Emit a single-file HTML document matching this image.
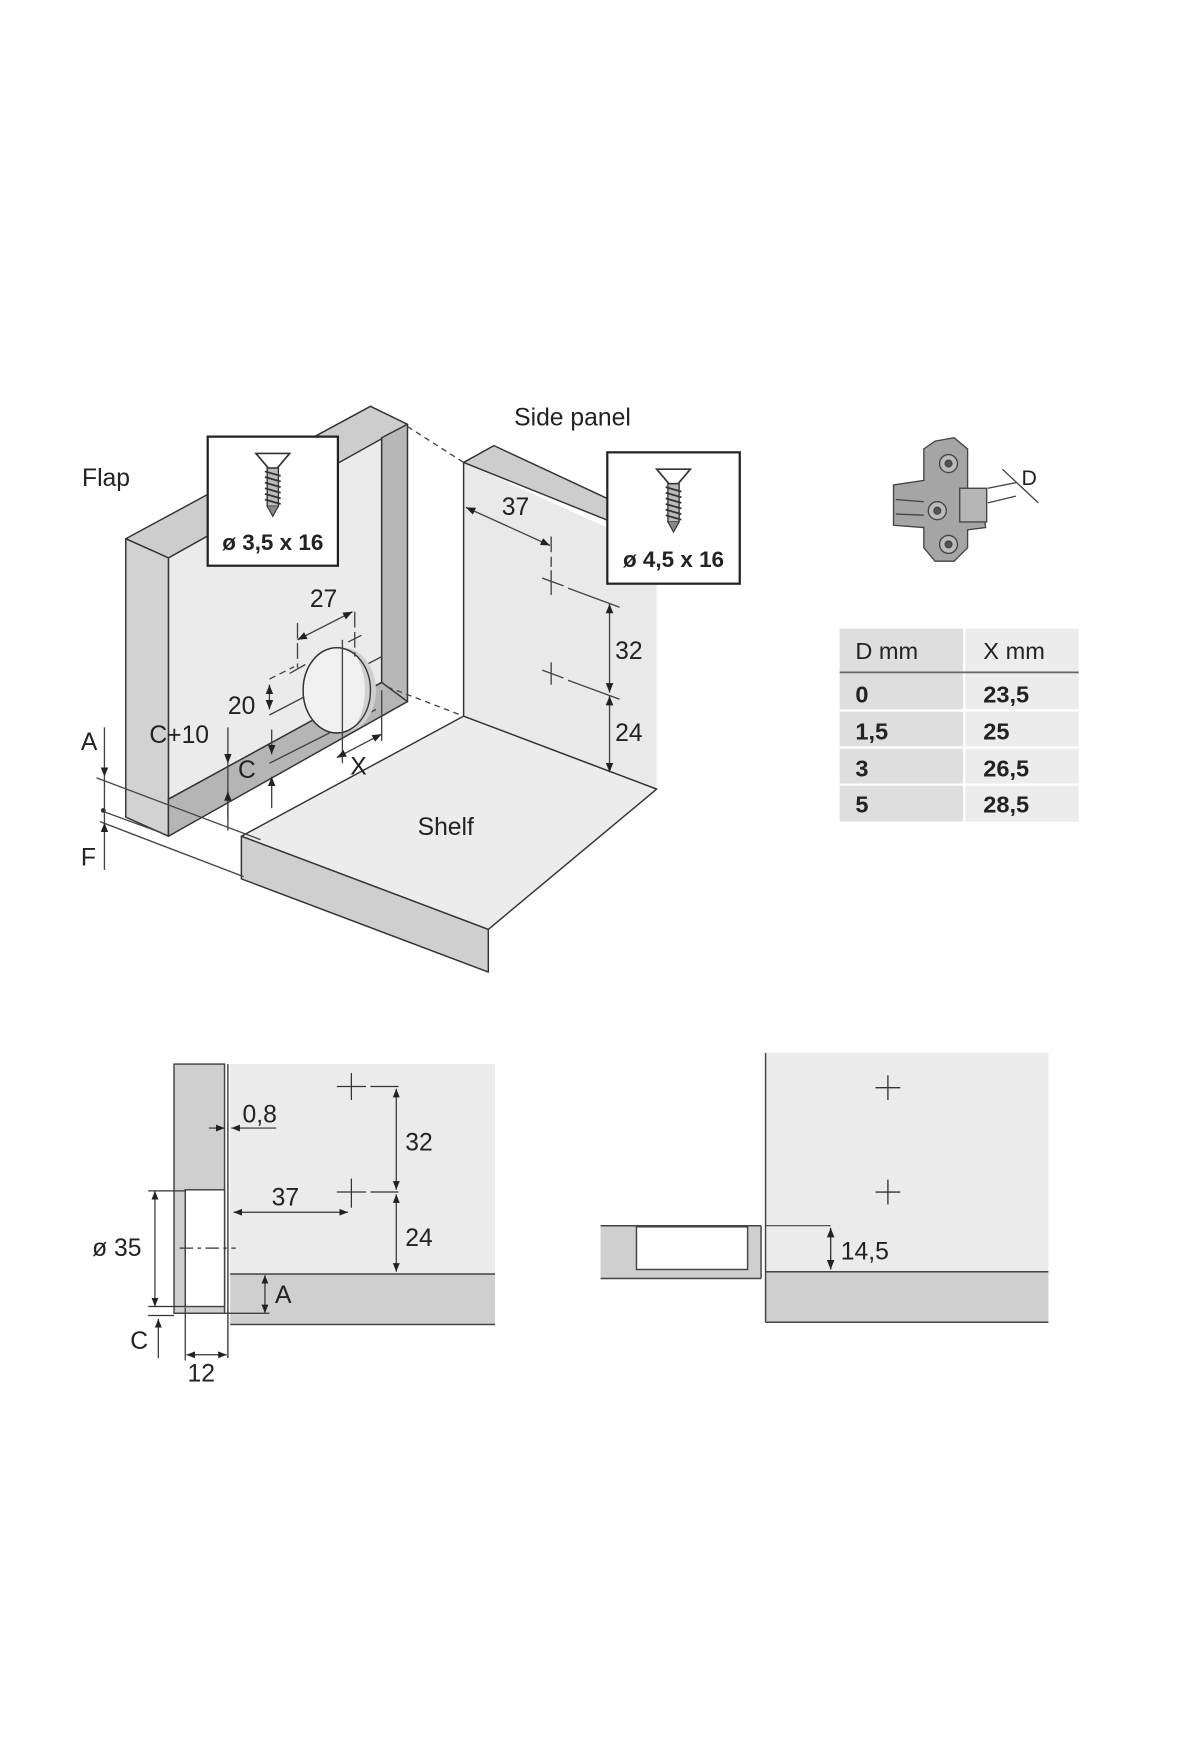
<!DOCTYPE html>
<html><head><meta charset="utf-8"><style>
html,body{margin:0;padding:0;background:#fff;width:1200px;height:1760px;overflow:hidden}
svg{display:block}
text{font-family:"Liberation Sans","DejaVu Sans",sans-serif;fill:#222}
</style></head><body>
<svg width="1200" height="1760" viewBox="0 0 1069 1568" xmlns="http://www.w3.org/2000/svg">
<defs>
<marker id="a" viewBox="0 0 10 10" refX="10" refY="5" markerWidth="7" markerHeight="7" orient="auto-start-reverse"><path d="M0,1 L10,5 L0,9 z" fill="#222"/></marker>
<g id="screw">
<path d="M-15,0 L15,0 L4,13 L-4,13 z" fill="#fff" stroke="#333" stroke-width="1.5"/>
<rect x="-5" y="13" width="10" height="34" fill="#bbb" stroke="#333" stroke-width="1.2"/>
<path d="M-7,16 L7,20 M-7,21 L7,25 M-7,26 L7,30 M-7,31 L7,35 M-7,36 L7,40 M-7,41 L7,45" stroke="#333" stroke-width="1.6"/>
<path d="M-5,47 L0,56 L5,47" fill="#888" stroke="#333" stroke-width="1"/>
</g>
</defs>
<g stroke="#333" stroke-width="1.3" stroke-linejoin="round">
<polygon points="215,745 413,638 585,703 435,828" fill="#ececec"/>
<polygon points="215,745 435,828 435,866 215,783" fill="#cfcfcf"/>
<polygon points="413,412 585,490 585,703 413,638" fill="#e9e9e9" stroke="none"/>
<line x1="413" y1="412" x2="413" y2="638"/>
<line x1="413" y1="638" x2="585" y2="703"/>
<polygon points="413,412 440,397 560,453 545,465" fill="#cdcdcd"/>
<polygon points="150,497 340,390 340,608 150,712" fill="#ebebeb"/>
<polygon points="112,480 330,362 363,378 150,497" fill="#cdcdcd"/>
<polygon points="112,480 150,497 150,745 112,728" fill="#d2d2d2"/>
<polygon points="340,390 363,378 363,625 340,638" fill="#b8b8b8"/>
<polygon points="150,712 340,608 363,625 150,745" fill="#b5b5b5"/>
</g>
<g stroke="#444" stroke-width="1.2" fill="none">
<line x1="363" y1="380" x2="413" y2="412" stroke-dasharray="5,4"/>
<line x1="345" y1="612" x2="413" y2="638" stroke-dasharray="5,4"/>
<line x1="86" y1="693" x2="232" y2="748"/>
<line x1="92" y1="723" x2="144" y2="742"/>
<line x1="89" y1="732" x2="217" y2="781"/>
<line x1="93" y1="648" x2="93" y2="692" marker-end="url(#a)"/>
<line x1="93" y1="775" x2="93" y2="733" marker-end="url(#a)"/>
<line x1="93" y1="692" x2="93" y2="733"/>
<circle cx="92" cy="722" r="1.6" fill="#222"/>
<line x1="203" y1="648" x2="203" y2="680" marker-end="url(#a)"/>
<line x1="203" y1="680" x2="203" y2="730"/>
<line x1="203" y1="740" x2="203" y2="705" marker-end="url(#a)"/>
<line x1="242" y1="650" x2="242" y2="672" marker-end="url(#a)"/>
<line x1="242" y1="720" x2="242" y2="692" marker-end="url(#a)"/>
<line x1="240" y1="680" x2="335" y2="632"/>
<line x1="240" y1="610" x2="240" y2="632" marker-start="url(#a)" marker-end="url(#a)"/>
<line x1="240" y1="605" x2="262" y2="594" stroke-dasharray="6,4"/>
<line x1="240" y1="637" x2="340" y2="585"/>
<ellipse cx="300" cy="615" rx="30" ry="38" fill="#f0f0f0" stroke="#333"/>
<path d="M305,577 A20,38 0 0 1 305,653 A30,38 0 0 0 305,577z" fill="#cfcfcf" stroke="none"/>
<ellipse cx="300" cy="615" rx="30" ry="38" fill="none" stroke="#333"/>
<line x1="305" y1="570" x2="305" y2="680"/>
<line x1="265" y1="555" x2="265" y2="595" stroke-dasharray="14,4"/>
<line x1="316" y1="545" x2="316" y2="585" stroke-dasharray="14,4"/>
<line x1="258" y1="600" x2="272" y2="592"/>
<line x1="310" y1="572" x2="322" y2="566"/>
<line x1="265" y1="570" x2="314" y2="545" marker-start="url(#a)" marker-end="url(#a)"/>
<line x1="300" y1="675" x2="340" y2="654" marker-start="url(#a)" marker-end="url(#a)"/>
<line x1="340" y1="615" x2="340" y2="660"/>
<line x1="415" y1="452" x2="490" y2="486" marker-start="url(#a)" marker-end="url(#a)"/>
<line x1="491" y1="478" x2="491" y2="505" stroke-dasharray="14,4"/>
<line x1="491" y1="508" x2="491" y2="530"/><line x1="483" y1="515" x2="502" y2="522"/>
<line x1="506" y1="524" x2="552" y2="541"/>
<line x1="491" y1="590" x2="491" y2="610"/><line x1="483" y1="597" x2="502" y2="604"/>
<line x1="506" y1="606" x2="552" y2="623"/>
<line x1="543" y1="538" x2="543" y2="617" marker-start="url(#a)" marker-end="url(#a)"/>
<line x1="543" y1="620" x2="543" y2="688" marker-start="url(#a)" marker-end="url(#a)"/>
</g>
<rect x="185" y="389" width="116" height="115" fill="#fff" stroke="#222" stroke-width="2"/>
<use href="#screw" x="243" y="404"/>
<text x="243" y="490" font-size="20" font-weight="bold" text-anchor="middle">ø 3,5 x 16</text>
<rect x="541" y="403" width="118" height="117" fill="#fff" stroke="#222" stroke-width="2"/>
<use href="#screw" x="600" y="418"/>
<text x="600" y="505" font-size="20" font-weight="bold" text-anchor="middle">ø 4,5 x 16</text>
<g font-size="22">
<text x="73" y="433">Flap</text>
<text x="458" y="379">Side panel</text>
<text x="372" y="744">Shelf</text>
<text x="447" y="459">37</text>
<text x="548" y="587">32</text>
<text x="548" y="660">24</text>
<text x="276" y="541">27</text>
<text x="203" y="636">20</text>
<text x="133" y="662">C+10</text>
<text x="212" y="693">C</text>
<text x="312" y="690">X</text>
<text x="72" y="668">A</text>
<text x="72" y="771">F</text>
</g>
<g stroke="#444" stroke-width="1.2">
<polygon points="833,393 850,390 862,400 862,445 876,448 878,470 862,472 862,488 850,500 833,500 823,488 823,470 796,468 796,432 823,428 823,400" fill="#a5a5a5"/>
<line x1="798" y1="445" x2="823" y2="447"/><line x1="798" y1="458" x2="823" y2="459"/>
<rect x="855" y="435" width="24" height="30" fill="#b5b5b5"/>
<circle cx="845" cy="413" r="8" fill="#bbb"/><circle cx="835" cy="455" r="8" fill="#bbb"/><circle cx="845" cy="485" r="8" fill="#bbb"/>
<circle cx="845" cy="413" r="3" fill="#555"/><circle cx="835" cy="455" r="3" fill="#555"/><circle cx="845" cy="485" r="3" fill="#555"/>
<line x1="880" y1="435" x2="905" y2="430"/><line x1="880" y1="448" x2="905" y2="442"/>
<line x1="893" y1="418" x2="925" y2="448"/>
</g>
<text x="910" y="432" font-size="19">D</text>
<rect x="748" y="560" width="110" height="172" fill="#dedede"/>
<rect x="860" y="560" width="101" height="172" fill="#ececec"/>
<g stroke="#fff" stroke-width="2"><line x1="748" y1="633" x2="961" y2="633"/><line x1="748" y1="666" x2="961" y2="666"/><line x1="748" y1="699" x2="961" y2="699"/></g>
<line x1="748" y1="599" x2="961" y2="599" stroke="#666" stroke-width="1.5"/>
<g font-size="21" font-weight="bold" fill="#222">
<text x="762" y="587" font-weight="normal">D mm</text><text x="876" y="587" font-weight="normal">X mm</text>
<text x="762" y="626">0</text><text x="876" y="626">23,5</text>
<text x="762" y="659">1,5</text><text x="876" y="659">25</text>
<text x="762" y="692">3</text><text x="876" y="692">26,5</text>
<text x="762" y="724">5</text><text x="876" y="724">28,5</text>
</g>
<g stroke="#444" stroke-width="1.3">
<rect x="205" y="948" width="236" height="187" fill="#ebebeb" stroke="none"/>
<rect x="205" y="1135" width="236" height="45" fill="#cfcfcf" stroke="none"/>
<line x1="205" y1="1135" x2="441" y2="1135"/><line x1="205" y1="1180" x2="441" y2="1180"/>
<rect x="155" y="948" width="45" height="222" fill="#cfcfcf"/>
<rect x="165" y="1060" width="35" height="104" fill="#fff"/>
<line x1="203" y1="948" x2="203" y2="1210"/>
</g>
<g stroke="#333" stroke-width="1.1" fill="none">
<line x1="300" y1="968" x2="326" y2="968"/><line x1="313" y1="956" x2="313" y2="980"/><line x1="330" y1="968" x2="355" y2="968"/>
<line x1="300" y1="1062" x2="326" y2="1062"/><line x1="313" y1="1050" x2="313" y2="1076"/><line x1="330" y1="1062" x2="355" y2="1062"/>
<line x1="353" y1="970" x2="353" y2="1060" marker-start="url(#a)" marker-end="url(#a)"/>
<line x1="353" y1="1064" x2="353" y2="1133" marker-start="url(#a)" marker-end="url(#a)"/>
<line x1="208" y1="1080" x2="310" y2="1080" marker-start="url(#a)" marker-end="url(#a)"/>
<line x1="186" y1="1005" x2="200" y2="1005" marker-end="url(#a)"/>
<line x1="246" y1="1005" x2="206" y2="1005" marker-end="url(#a)"/>
<line x1="138" y1="1061" x2="138" y2="1164" marker-start="url(#a)" marker-end="url(#a)"/>
<line x1="132" y1="1061" x2="165" y2="1061"/><line x1="132" y1="1164" x2="165" y2="1164"/>
<line x1="160" y1="1112" x2="210" y2="1112" stroke-dasharray="12,4,3,4"/>
<line x1="236" y1="1136" x2="236" y2="1170" marker-start="url(#a)" marker-end="url(#a)"/>
<line x1="200" y1="1170" x2="240" y2="1170"/>
<line x1="132" y1="1172" x2="155" y2="1172"/>
<line x1="141" y1="1210" x2="141" y2="1175" marker-end="url(#a)"/>
<line x1="165" y1="1165" x2="165" y2="1212"/>
<line x1="166" y1="1207" x2="202" y2="1207" marker-start="url(#a)" marker-end="url(#a)"/>
</g>
<g font-size="22">
<text x="216" y="1000">0,8</text><text x="361" y="1025">32</text><text x="242" y="1074">37</text>
<text x="361" y="1110">24</text><text x="82" y="1119">ø 35</text><text x="245" y="1161">A</text>
<text x="116" y="1202">C</text><text x="167" y="1231">12</text>
</g>
<g stroke="#444" stroke-width="1.3">
<rect x="682" y="938" width="252" height="195" fill="#ebebeb" stroke="none"/>
<rect x="682" y="1133" width="252" height="45" fill="#cfcfcf" stroke="none"/>
<line x1="682" y1="938" x2="682" y2="1178"/><line x1="682" y1="1133" x2="934" y2="1133"/><line x1="682" y1="1178" x2="934" y2="1178"/>
<rect x="535" y="1092" width="143" height="47" fill="#cfcfcf" stroke="none"/>
<line x1="535" y1="1092" x2="678" y2="1092"/><line x1="535" y1="1139" x2="678" y2="1139"/><line x1="678" y1="1092" x2="678" y2="1139"/>
<rect x="567" y="1093" width="99" height="38" fill="#fff"/>
<line x1="682" y1="1092" x2="740" y2="1092" stroke-width="1"/>
</g>
<g stroke="#333" stroke-width="1.2">
<line x1="780" y1="969" x2="802" y2="969"/><line x1="791" y1="958" x2="791" y2="980"/>
<line x1="780" y1="1062" x2="802" y2="1062"/><line x1="791" y1="1051" x2="791" y2="1073"/>
<line x1="740" y1="1094" x2="740" y2="1131" marker-start="url(#a)" marker-end="url(#a)"/>
</g>
<text x="749" y="1122" font-size="22">14,5</text>
</svg>
</body></html>
